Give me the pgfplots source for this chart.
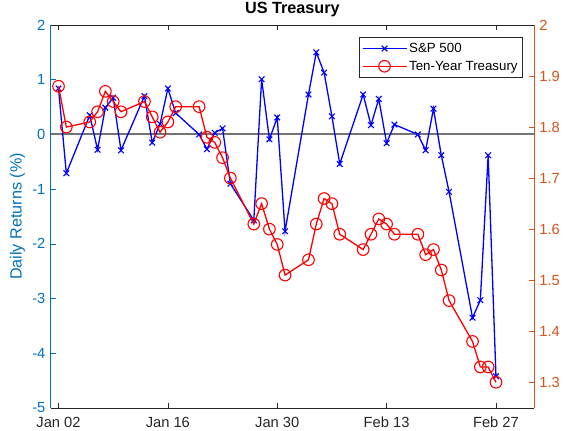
\documentclass[border=0pt]{standalone}
\usepackage{pgfplots}
\usepackage{pgfplotstable}
\pgfplotsset{compat=1.18}
\usepackage{fontspec}
\setmainfont{Liberation Sans}
\definecolor{lcol}{rgb}{0,0.447,0.741}
\definecolor{rcol}{rgb}{0.85,0.325,0.098}
\definecolor{xcol}{rgb}{0.15,0.15,0.15}
\newcommand\tickfont{\fontsize{14.7bp}{17bp}\selectfont}
\newcommand\labfont{\fontsize{16.2bp}{19bp}\selectfont}
\newcommand\legfont{\fontsize{13.3bp}{15bp}\selectfont}

\pgfplotstableread{
d sp
0 0.84
1 -0.71
4 0.35
5 -0.28
6 0.49
7 0.67
8 -0.29
11 0.70
12 -0.15
13 0.19
14 0.84
15 0.39
18 0.00
19 -0.27
20 0.03
21 0.11
22 -0.90
25 -1.57
26 1.01
27 -0.09
28 0.31
29 -1.77
32 0.73
33 1.50
34 1.13
35 0.33
36 -0.54
39 0.73
40 0.17
41 0.65
42 -0.16
43 0.18
46 0.00
47 -0.29
48 0.47
49 -0.38
50 -1.05
53 -3.35
54 -3.03
55 -0.38
56 -4.42
}\spdata

\pgfplotstableread{
d ty
0 1.88
1 1.80
4 1.81
5 1.83
6 1.87
7 1.85
8 1.83
11 1.85
12 1.82
13 1.79
14 1.81
15 1.84
18 1.84
19 1.78
20 1.77
21 1.74
22 1.70
25 1.61
26 1.65
27 1.60
28 1.57
29 1.51
32 1.54
33 1.61
34 1.66
35 1.65
36 1.59
39 1.56
40 1.59
41 1.62
42 1.61
43 1.59
46 1.59
47 1.55
48 1.56
49 1.52
50 1.46
53 1.38
54 1.33
55 1.33
56 1.30
}\tydata

\begin{document}
\begin{tikzpicture}
\useasboundingbox (-50.7bp,-23bp) rectangle (512.3bp,408bp);
\pgfplotsset{
  common/.style={
    at={(0,0)}, anchor=south west,
    scale only axis, width=483.3bp, height=383bp,
    xmin=-1, xmax=60.87,
    axis line style={draw=none},
    tick align=inside,
    major tick length=5bp,
    /pgf/number format/assume math mode=true,
    tick label style={font=\tickfont},
    clip=false,
  }
}
\begin{axis}[common,
  ymin=-5, ymax=2,
  ytick={-5,-4,-3,-2,-1,0,1,2},
  ytick pos=left,
  y tick style={lcol, line width=0.6bp},
  yticklabel style={lcol, xshift=-1.8bp},
  xtick={0,14,28,42,56},
  xticklabels={Jan 02,Jan 16,Jan 30,Feb 13,Feb 27},
  xtick pos=both,
  x tick style={xcol, line width=0.6bp},
  xticklabel style={xcol, anchor=base, yshift=-20bp},
  title={US Treasury},
  title style={font=\labfont\bfseries, at={(axis description cs:0.5,1)}, anchor=base, yshift=5.7bp},
  ylabel={Daily Returns (\%)},
  every axis y label/.style={at={([xshift=-33.2bp]axis description cs:0,0.5)}, rotate=90, anchor=center, font=\labfont, color=lcol},
]
\addplot[color=black!55, line width=1.9bp, forget plot] coordinates {(-1,0) (60.87,0)};
\addplot[color=blue, line width=1.3bp, mark=x, mark size=4bp, mark options={solid, line width=1.1bp}] table[x=d, y=sp] {\spdata};
\end{axis}
\begin{axis}[common,
  ymin=1.2496, ymax=2,
  ytick={1.3,1.4,1.5,1.6,1.7,1.8,1.9,2},
  yticklabels={1.3,1.4,1.5,1.6,1.7,1.8,1.9,2},
  ytick pos=right,
  y tick style={rcol, line width=0.6bp},
  yticklabel style={rcol, xshift=1.8bp},
  xtick=\empty,
  legend style={at={(rel axis cs:0.977,0.969)}, anchor=north east, draw=xcol, line width=0.6bp, font=\legfont, inner xsep=3bp, inner ysep=4bp, row sep=3bp, cells={anchor=west}},
  legend image code/.code={\draw[mark repeat=2,mark phase=2,#1] plot coordinates {(0bp,0bp) (22bp,0bp) (44bp,0bp)};},
]
\addlegendimage{color=blue, line width=1.3bp, mark=x, mark size=4bp, mark options={solid, line width=1.1bp}}
\addlegendentry{S\&P 500}
\addplot[color=red, line width=1.3bp, mark=o, mark size=5.8bp, mark options={solid, line width=1.1bp}] table[x=d, y=ty] {\tydata};
\addlegendentry{Ten-Year Treasury}
\draw[xcol, line width=0.6bp] (rel axis cs:0,0) -- (rel axis cs:1,0);
\draw[xcol, line width=0.6bp] (rel axis cs:0,1) -- (rel axis cs:1,1);
\draw[lcol, line width=0.8bp] (rel axis cs:0,0) -- (rel axis cs:0,1);
\draw[rcol, line width=0.8bp] (rel axis cs:1,0) -- (rel axis cs:1,1);
\end{axis}
\end{tikzpicture}
\end{document}
